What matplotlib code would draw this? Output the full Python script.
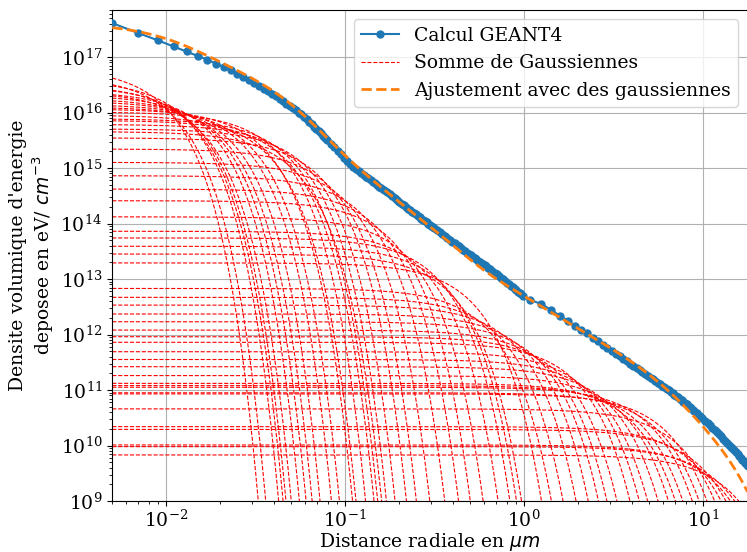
import numpy as np
import matplotlib
matplotlib.use("Agg")
import matplotlib.pyplot as plt
from matplotlib.ticker import LogLocator, NullFormatter

# ---------------- data ----------------
# GEANT4 radial profile: radius (um) and log10(energy density, eV/cm^3)
blue_x = [0.005, 0.007, 0.009, 0.011, 0.013, 0.015, 0.017, 0.019, 0.021, 0.023,
          0.025, 0.027, 0.029, 0.031, 0.033, 0.035, 0.037, 0.039, 0.041, 0.043,
          0.045, 0.047, 0.049, 0.051, 0.053, 0.055, 0.057, 0.059, 0.061, 0.063,
          0.065, 0.067, 0.069, 0.071, 0.073, 0.075, 0.077, 0.079,
          0.083, 0.087, 0.091, 0.095, 0.099, 0.103, 0.107, 0.111, 0.115, 0.119,
          0.123, 0.127, 0.131, 0.135, 0.139, 0.143, 0.147, 0.151, 0.155, 0.159,
          0.165, 0.171, 0.177, 0.183, 0.189, 0.195, 0.201, 0.207, 0.213, 0.219,
          0.225, 0.231, 0.237, 0.243, 0.249, 0.255, 0.261, 0.267, 0.273, 0.279,
          0.285, 0.291, 0.297, 0.303, 0.309, 0.315,
          0.325, 0.337, 0.349, 0.361, 0.373, 0.385, 0.397, 0.409, 0.421, 0.433,
          0.445, 0.457, 0.469, 0.481, 0.493, 0.505, 0.517, 0.529, 0.541, 0.553,
          0.565, 0.577, 0.589, 0.601, 0.613, 0.625,
          0.645, 0.665, 0.685, 0.705, 0.725, 0.745, 0.765, 0.785, 0.805, 0.825,
          0.845, 0.865, 0.885, 0.905, 0.925, 0.945, 0.965, 0.985,
          1.083, 1.25, 1.417, 1.583, 1.75, 1.917, 2.083, 2.25,
          2.417, 2.583, 2.75, 2.917, 3.083, 3.25, 3.417, 3.583, 3.75, 3.917, 4.083,
          4.25, 4.417, 4.583, 4.75, 4.917, 5.083, 5.25, 5.417, 5.583, 5.75, 5.917,
          6.083, 6.25, 6.417, 6.583, 6.75, 6.917, 7.083, 7.25, 7.417, 7.583, 7.75,
          7.917, 8.083, 8.25, 8.417, 8.583, 8.75, 8.917,
          9.25, 9.583, 9.917, 10.25, 10.583, 10.917, 11.25, 11.583, 11.917, 12.25,
          12.583, 12.917, 13.25, 13.583, 13.917, 14.25, 14.583, 14.917, 15.25, 15.583,
          15.917, 16.25, 16.583, 16.917, 17.25, 17.583, 17.917]
blue_logy = [17.61, 17.43, 17.30, 17.19, 17.10, 17.02, 16.95, 16.88, 16.82, 16.76,
             16.70, 16.64, 16.58, 16.53, 16.48, 16.43, 16.38, 16.33, 16.29, 16.24,
             16.20, 16.16, 16.12, 16.08, 16.04, 16.00, 15.975, 15.926, 15.878, 15.832,
             15.788, 15.745, 15.703, 15.662, 15.622, 15.584, 15.546, 15.510,
             15.439, 15.373, 15.308, 15.247, 15.188, 15.132, 15.078, 15.025, 14.981, 14.945,
             14.910, 14.876, 14.843, 14.811, 14.781, 14.751, 14.721, 14.693, 14.665, 14.638,
             14.599, 14.561, 14.524, 14.489, 14.455, 14.422, 14.390, 14.359, 14.328, 14.299,
             14.270, 14.242, 14.215, 14.189, 14.163, 14.138, 14.113, 14.089, 14.065, 14.042,
             14.020, 13.998, 13.975, 13.955, 13.934, 13.915,
             13.882, 13.845, 13.809, 13.774, 13.740, 13.707, 13.675, 13.645, 13.615, 13.586,
             13.557, 13.530, 13.503, 13.477, 13.452, 13.427, 13.402, 13.379, 13.355, 13.333,
             13.311, 13.289, 13.268, 13.247, 13.226, 13.206,
             13.174, 13.142, 13.112, 13.082, 13.053, 13.025, 12.995, 12.965, 12.936, 12.907,
             12.879, 12.851, 12.825, 12.798, 12.773, 12.748, 12.723, 12.699,
             12.62, 12.55, 12.44, 12.34, 12.25, 12.16, 12.08, 12.02,
             11.944, 11.879, 11.819, 11.762, 11.708, 11.657, 11.608, 11.562, 11.518, 11.476, 11.436,
             11.397, 11.360, 11.324, 11.289, 11.256, 11.224, 11.192, 11.162, 11.133, 11.104, 11.077,
             11.050, 11.023, 10.997, 10.970, 10.943, 10.917, 10.891, 10.865, 10.840, 10.815, 10.790,
             10.765, 10.741, 10.716, 10.693, 10.669, 10.646, 10.622,
             10.577, 10.532, 10.488, 10.445, 10.403, 10.361, 10.320, 10.280, 10.241, 10.202,
             10.164, 10.126, 10.089, 10.053, 10.017, 9.981, 9.946, 9.912, 9.878, 9.845,
             9.812, 9.779, 9.747, 9.715, 9.684, 9.653, 9.622]

# Individual gaussians: log10 of their level at the left edge (r = 0.005 um)
# and the radius (um) where each one has fallen to 1e9
gauss_level_left = [16.62, 16.50, 16.48, 16.40, 16.39, 16.30, 16.32, 16.26, 16.21, 16.17,
                    16.12, 16.08, 16.05, 15.94, 16.00, 15.85, 15.88, 15.65, 15.78, 15.70,
                    15.54, 15.34, 15.10, 14.86, 14.62, 14.41, 14.12, 13.86, 13.74, 13.59,
                    13.45, 13.29, 12.83, 12.67, 12.53, 12.37, 12.23, 12.08, 11.96, 11.86,
                    11.69, 11.55, 11.42, 11.26, 11.12, 11.08, 11.05, 10.95, 10.93, 10.66,
                    10.34, 10.29, 10.01, 9.98, 9.83]
gauss_r_at_1e9 = [0.0327, 0.036, 0.0425, 0.045, 0.0467, 0.050, 0.0555, 0.0605, 0.0654, 0.0724,
                  0.0838, 0.0929, 0.110, 0.115, 0.130, 0.145, 0.152, 0.160, 0.170, 0.190,
                  0.220, 0.250, 0.297, 0.360, 0.430, 0.500, 0.590, 0.715, 0.832, 0.906,
                  0.967, 1.25, 1.42, 1.65, 1.95, 2.28, 2.6, 2.9, 3.3, 3.9,
                  4.4, 4.9, 5.6, 6.4, 7.0, 7.7, 8.7, 9.5, 10.5, 11.6,
                  12.6, 13.4, 14.2, 15.0, 15.8]

labels = ["Calcul GEANT4", "Somme de Gaussiennes", "Ajustement avec des gaussiennes"]
xlabel = "Distance radiale en $\\mu m$"
ylabel = "Densite volumique d'energie\ndeposee en eV/ $cm^{-3}$"

# ---------------- figure ----------------
plt.rcParams["font.family"] = ["DejaVu Serif"]
plt.rcParams["font.size"] = 13.5

W, H = 747, 552
fig = plt.figure(figsize=(W / 100, H / 100), dpi=100)
ax = fig.add_axes([112.3 / W, (H - 501) / H, (747.5 - 112.3) / W, (501 - 10) / H])

# blue GEANT4 data
bx = np.array(blue_x)
by = 10.0 ** np.array(blue_logy)
ax.plot(bx, by, "o-", color="#1f77b4", ms=5, lw=1.5, label=labels[0], zorder=3)

# gaussians (amplitude and width derived from the two read values)
x0 = 0.005
xs = np.logspace(np.log10(0.005), np.log10(18.0), 4000)
lev = np.array(gauss_level_left)
rc = np.array(gauss_r_at_1e9)
lnL = (lev - 9.0) * np.log(10.0)
sig2 = (rc ** 2 - x0 ** 2) / (2.0 * lnL)
amp = 1e9 * np.exp(rc ** 2 / (2.0 * sig2))
curves = amp[:, None] * np.exp(-xs[None, :] ** 2 / (2.0 * sig2[:, None]))
for i, c in enumerate(curves):
    ax.plot(xs, np.maximum(c, 1e-3), "--", color="red", lw=0.8,
            label=labels[1] if i == 0 else None, zorder=2)

fit = curves.sum(axis=0)
ax.plot(xs, fit, "--", color="#ff7f0e", lw=2, label=labels[2], zorder=4)

ax.set_xscale("log")
ax.set_yscale("log")
ax.set_xlim(0.005, 17.7)
ax.set_ylim(1e9, 10 ** 17.847)
ax.yaxis.set_major_locator(LogLocator(base=10, numticks=20))
ax.yaxis.set_minor_locator(LogLocator(base=10, subs=np.arange(2, 10), numticks=20))
ax.yaxis.set_minor_formatter(NullFormatter())
ax.xaxis.set_minor_locator(LogLocator(base=10, subs=np.arange(2, 10), numticks=20))
ax.xaxis.set_minor_formatter(NullFormatter())
ax.tick_params(axis="x", which="major", pad=2.5)
ax.grid(True, which="major", color="#b0b0b0", lw=0.8)
ax.set_axisbelow(True)

ax.set_xlabel(xlabel, labelpad=0)
ax.set_ylabel(ylabel, labelpad=3)
ax.legend(loc="upper right", fontsize=13.5)

fig.savefig("out.png", dpi=100)
